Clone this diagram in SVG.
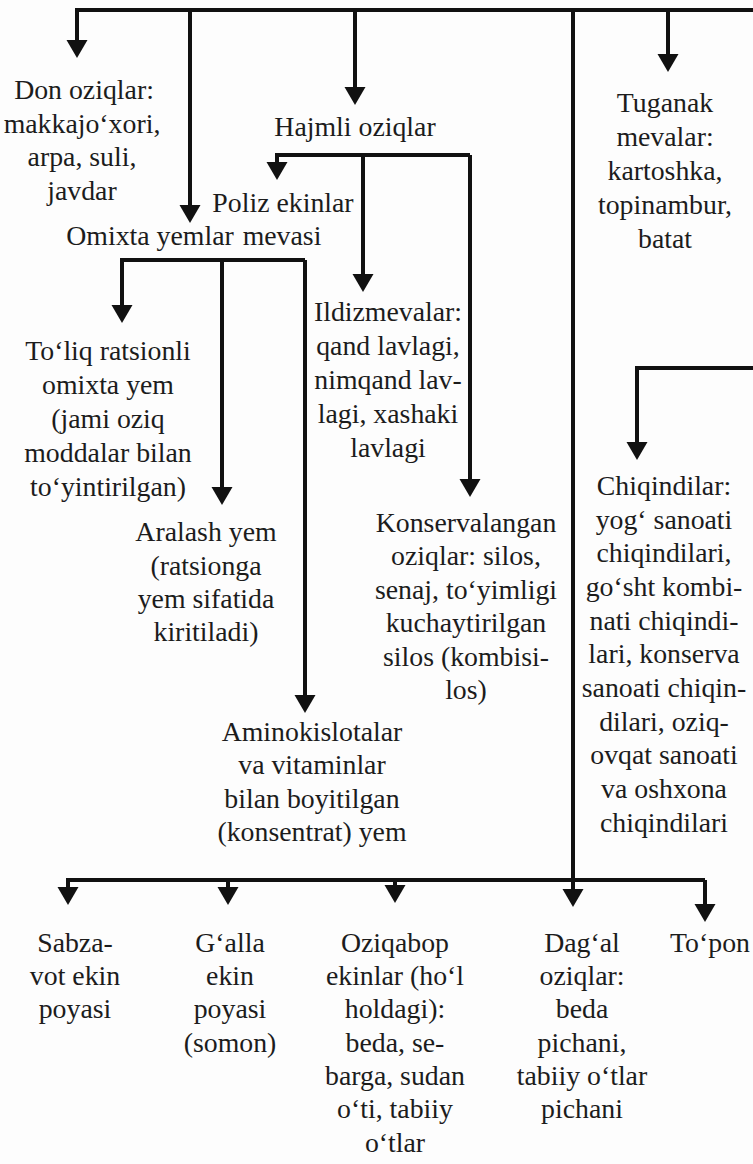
<svg xmlns="http://www.w3.org/2000/svg" width="753" height="1164" viewBox="0 0 753 1164">
<style>
.t { font-family: "Liberation Serif", "Times New Roman", serif; font-size: 27.8px; fill: #1c1c1c; text-anchor: middle; }
.c { stroke: #111; stroke-width: 4; fill: none; stroke-linejoin: miter; stroke-linecap: butt; }
</style>
<defs>
<marker id="ah" markerUnits="userSpaceOnUse" markerWidth="20" markerHeight="22" viewBox="0 -11 20 22" refX="8" refY="0" orient="auto">
<path d="M0,-10.5 L18,0 L0,10.5 z" fill="#111"/>
</marker>
</defs>
<rect width="753" height="1164" fill="#fdfdfd"/>
<g id="connectors">
<path class="c" d="M753,10 H77 V48" marker-end="url(#ah)"/>
<path class="c" d="M190,10 V213" marker-end="url(#ah)"/>
<path class="c" d="M355,10 V95" marker-end="url(#ah)"/>
<path class="c" d="M573,10 V897" marker-end="url(#ah)"/>
<path class="c" d="M668,10 V62" marker-end="url(#ah)"/>
<path class="c" d="M470,155 H277 V170" marker-end="url(#ah)"/>
<path class="c" d="M363,155 V282" marker-end="url(#ah)"/>
<path class="c" d="M470,155 V487" marker-end="url(#ah)"/>
<path class="c" d="M305,260 H122 V313" marker-end="url(#ah)"/>
<path class="c" d="M222,260 V495" marker-end="url(#ah)"/>
<path class="c" d="M305,260 V703" marker-end="url(#ah)"/>
<path class="c" d="M753,368 H637 V450" marker-end="url(#ah)"/>
<path class="c" d="M705,880 H68 V895" marker-end="url(#ah)"/>
<path class="c" d="M228,880 V895" marker-end="url(#ah)"/>
<path class="c" d="M395,880 V893" marker-end="url(#ah)"/>
<path class="c" d="M705,880 V912" marker-end="url(#ah)"/>
</g>
<g id="don">
<text class="t" x="84" y="99">Don oziqlar:</text>
<text class="t" x="82" y="133">makkajo‘xori,</text>
<text class="t" x="82" y="166">arpa, suli,</text>
<text class="t" x="82" y="200">javdar</text>
</g>
<g id="hajmli">
<text class="t" x="355" y="136">Hajmli oziqlar</text>
</g>
<g id="tuganak">
<text class="t" x="665" y="112">Tuganak</text>
<text class="t" x="665" y="146">mevalar:</text>
<text class="t" x="665" y="180">kartoshka,</text>
<text class="t" x="665" y="214">topinambur,</text>
<text class="t" x="665" y="248">batat</text>
</g>
<g id="poliz">
<text class="t" x="283" y="212">Poliz ekinlar</text>
<text class="t" x="282" y="245">mevasi</text>
</g>
<g id="omixta">
<text class="t" x="150" y="245">Omixta yemlar</text>
</g>
<g id="ildiz">
<text class="t" x="388" y="321">Ildizmevalar:</text>
<text class="t" x="388" y="355">qand lavlagi,</text>
<text class="t" x="388" y="389">nimqand lav-</text>
<text class="t" x="388" y="423">lagi, xashaki</text>
<text class="t" x="388" y="457">lavlagi</text>
</g>
<g id="toliq">
<text class="t" x="108" y="360">To‘liq ratsionli</text>
<text class="t" x="108" y="394">omixta yem</text>
<text class="t" x="108" y="428">(jami oziq</text>
<text class="t" x="108" y="462">moddalar bilan</text>
<text class="t" x="108" y="496">to‘yintirilgan)</text>
</g>
<g id="aralash">
<text class="t" x="206" y="541">Aralash yem</text>
<text class="t" x="206" y="575">(ratsionga</text>
<text class="t" x="206" y="608">yem sifatida</text>
<text class="t" x="206" y="641">kiritiladi)</text>
</g>
<g id="konserv">
<text class="t" x="466" y="532">Konservalangan</text>
<text class="t" x="466" y="565">oziqlar: silos,</text>
<text class="t" x="466" y="599">senaj, to‘yimligi</text>
<text class="t" x="466" y="632">kuchaytirilgan</text>
<text class="t" x="466" y="666">silos (kombisi-</text>
<text class="t" x="466" y="699">los)</text>
</g>
<g id="chiqindi">
<text class="t" x="664" y="495">Chiqindilar:</text>
<text class="t" x="664" y="529">yog‘ sanoati</text>
<text class="t" x="664" y="562">chiqindilari,</text>
<text class="t" x="664" y="596">go‘sht kombi-</text>
<text class="t" x="664" y="630">nati chiqindi-</text>
<text class="t" x="664" y="663">lari, konserva</text>
<text class="t" x="664" y="697">sanoati chiqin-</text>
<text class="t" x="664" y="731">dilari, oziq-</text>
<text class="t" x="664" y="764">ovqat sanoati</text>
<text class="t" x="664" y="798">va oshxona</text>
<text class="t" x="664" y="832">chiqindilari</text>
</g>
<g id="amino">
<text class="t" x="312" y="741">Aminokislotalar</text>
<text class="t" x="312" y="774">va vitaminlar</text>
<text class="t" x="312" y="808">bilan boyitilgan</text>
<text class="t" x="312" y="841">(konsentrat) yem</text>
</g>
<g id="sabzavot">
<text class="t" x="75" y="952">Sabza-</text>
<text class="t" x="75" y="985">vot ekin</text>
<text class="t" x="75" y="1018">poyasi</text>
</g>
<g id="galla">
<text class="t" x="230" y="952">G‘alla</text>
<text class="t" x="230" y="985">ekin</text>
<text class="t" x="230" y="1018">poyasi</text>
<text class="t" x="230" y="1052">(somon)</text>
</g>
<g id="oziqabop">
<text class="t" x="395" y="952">Oziqabop</text>
<text class="t" x="395" y="985">ekinlar (ho‘l</text>
<text class="t" x="395" y="1018">holdagi):</text>
<text class="t" x="395" y="1052">beda, se-</text>
<text class="t" x="395" y="1085">barga, sudan</text>
<text class="t" x="395" y="1118">o‘ti, tabiiy</text>
<text class="t" x="395" y="1152">o‘tlar</text>
</g>
<g id="dagal">
<text class="t" x="582" y="952">Dag‘al</text>
<text class="t" x="582" y="985">oziqlar:</text>
<text class="t" x="582" y="1018">beda</text>
<text class="t" x="582" y="1052">pichani,</text>
<text class="t" x="582" y="1085">tabiiy o‘tlar</text>
<text class="t" x="582" y="1118">pichani</text>
</g>
<g id="topon">
<text class="t" x="710" y="952">To‘pon</text>
</g>
</svg>
